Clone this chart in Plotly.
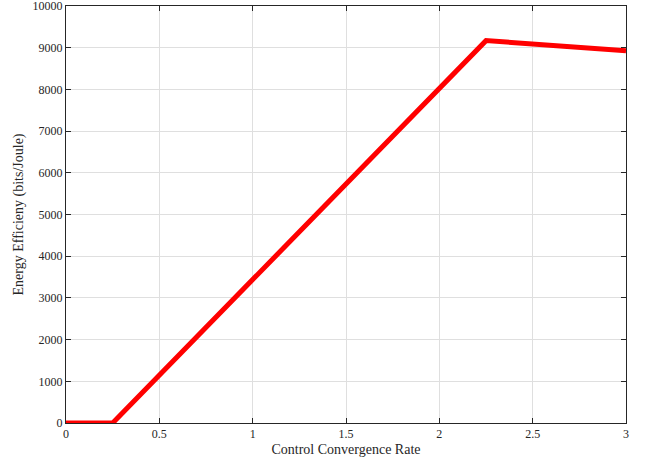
import plotly.graph_objects as go

rate = [0, 0.25, 2.25, 3.0]
efficiency = [0, 0, 9170, 8930]

x_ticks = [0, 0.5, 1, 1.5, 2, 2.5, 3]
x_labels = ["0", "0.5", "1", "1.5", "2", "2.5", "3"]
y_ticks = list(range(0, 10001, 1000))
y_labels = [str(v) for v in y_ticks]

font_family = "Liberation Serif, DejaVu Serif, serif"

fig = go.Figure()
fig.add_trace(go.Scatter(x=rate, y=efficiency, mode="lines",
                         line=dict(color="#ff0000", width=5),
                         showlegend=False))

axis_common = dict(showline=True, linecolor="#262626", linewidth=1, mirror="ticks",
                   ticks="inside", ticklen=5, tickcolor="#262626",
                   showgrid=True, gridcolor="#dfdfdf", gridwidth=1, zeroline=False,
                   automargin=False, ticklabeloverflow="allow",
                   tickfont=dict(family=font_family, size=12, color="#262626"))

fig.update_xaxes(range=[0, 3], tickvals=x_ticks, ticktext=x_labels,
                 title=dict(text="Control Convergence Rate", font=dict(family=font_family, size=14, color="#262626"), standoff=3),
                 **axis_common)
fig.update_yaxes(range=[0, 10000.5], tickvals=y_ticks, ticktext=y_labels,
                 title=dict(text="Energy Efficieny (bits/Joule)", font=dict(family=font_family, size=14, color="#262626"), standoff=5),
                 **axis_common)

fig.update_layout(width=652, height=463, margin=dict(l=66, r=26, t=6, b=40),
                  plot_bgcolor="white", paper_bgcolor="white",
                  font=dict(family=font_family))

fig.write_html("out.html", config={"displayModeBar": False})

with open("out.html", "r", encoding="utf-8") as f:
    html = f.read()
html = html.replace("<head>", "<head><style>html,body{margin:0;padding:0;overflow:hidden;}</style>", 1)
with open("out.html", "w", encoding="utf-8") as f:
    f.write(html)
